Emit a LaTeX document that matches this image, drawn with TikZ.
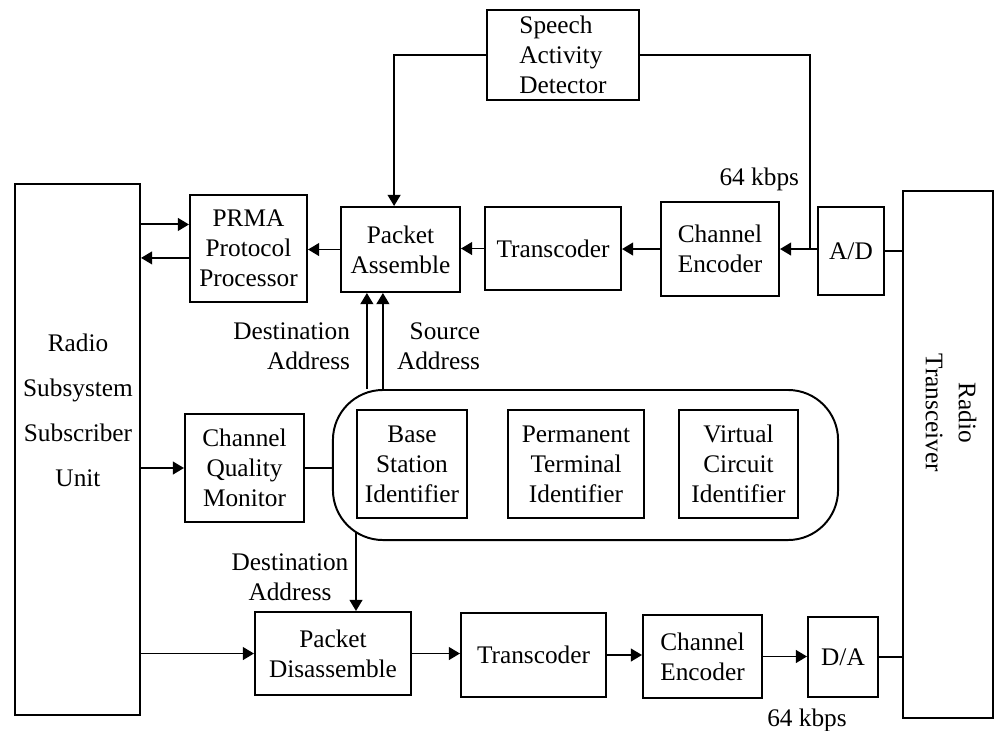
\documentclass[tikz,border=0pt]{standalone}
\usepackage{fontspec}
\setmainfont{Liberation Serif}
\usetikzlibrary{arrows.meta}
\usetikzlibrary{positioning}

\begin{document}
\begin{tikzpicture}[
    x=0.025cm, y=-0.025cm,
    line width=1.4pt,
    every node/.style={font=\fontsize{18}{21.3}\selectfont},
    block/.style={rectangle, draw, align=center, inner sep=1pt},
    edge label/.style={align=center, inner sep=0pt},
    arr/.style={-{Triangle[length=0.28cm, width=0.32cm]}},
  ]

  \useasboundingbox (0,0) rectangle (995,731);

  % side units
  \node[block, minimum width=3.125cm, minimum height=13.275cm] (rss) at (77.5, 449.5) {};
  \node[edge label, font=\fontsize{18}{32}\selectfont] (rsstxt) at (78, 410) {Radio\\Subsystem\\Subscriber\\Unit};
  \node[block, minimum width=2.25cm, minimum height=13.175cm] (rt) at (948, 454.5) {};
  \node[edge label, rotate=-90, font=\fontsize{18}{23.4}\selectfont] (rttxt) at (951, 413) {Radio\\Transceiver};

  % transmit path
  \node[block, minimum width=2.925cm, minimum height=2.675cm] (prma) at (248.5, 248.5) {PRMA\\Protocol\\Processor};
  \node[block, minimum width=2.975cm, minimum height=2.125cm] (pa) at (400.5, 249.5) {Packet\\Assemble};
  \node[block, align=left, minimum width=3.8cm, minimum height=2.25cm] (sad) at (563, 55) {Speech\\Activity\\Detector};
  \node[block, minimum width=3.4cm, minimum height=2.075cm] (tca) at (553, 248.5) {Transcoder};
  \node[block, minimum width=2.95cm, minimum height=2.35cm] (cea) at (720, 249) {Channel\\Encoder};
  \node[block, minimum width=1.65cm, minimum height=2.2cm] (ad) at (851, 251) {A/D};

  % identifiers
  \node[draw, rounded corners=1.25cm, minimum width=12.625cm, minimum height=3.75cm] (grp) at (585.5, 465) {};
  \node[block, minimum width=2.75cm, minimum height=2.7cm] (bsi) at (412, 464) {Base\\Station\\Identifier};
  \node[block, minimum width=3.4cm, minimum height=2.7cm] (pti) at (576, 464) {Permanent\\Terminal\\Identifier};
  \node[block, minimum width=2.975cm, minimum height=2.7cm] (vci) at (738.5, 464) {Virtual\\Circuit\\Identifier};
  \node[block, minimum width=2.975cm, minimum height=2.7cm] (cqm) at (244.5, 468) {Channel\\Quality\\Monitor};

  % receive path
  \node[block, minimum width=3.9cm, minimum height=2.075cm] (pd) at (333, 653.5) {Packet\\Disassemble};
  \node[block, minimum width=3.625cm, minimum height=2.1cm] (tcb) at (533.5, 655) {Transcoder};
  \node[block, minimum width=2.975cm, minimum height=2.075cm] (ceb) at (702.5, 656.5) {Channel\\Encoder};
  \node[block, minimum width=1.75cm, minimum height=2cm] (da) at (843, 657) {D/A};

  % labels
  \node[edge label, anchor=east] (kbpsa) at (800, 179) {64 kbps};
  \node[edge label, align=right, anchor=east] (dsta) at (351, 346) {Destination\\Address};
  \node[edge label, align=right, anchor=east] (srca) at (481, 346) {Source\\Address};
  \node[edge label] (dstb) at (290, 577) {Destination\\Address};
  \node[edge label] (kbpsb) at (807, 720) {64 kbps};

  \draw[arr] (rss.east |- prma.158) -- (prma.158);
  \draw[arr] (prma.189) -- (rss.east |- prma.189);
  \draw[arr] (pa.west) -- (prma.east |- pa.west);
  \draw[arr] (tca.west) -- (pa.east |- tca.west);
  \draw[arr] (cea.west) -- (tca.east |- cea.west);
  \draw[arr] (ad.west |- cea.east) -- (cea.east);
  \draw (rt.west |- ad.east) -- (ad.east);

  \coordinate (sadj) at ([xshift=-0.18cm]ad.west);
  \draw[arr] (sad.west) -| ([xshift=-0.16cm]pa.north);
  \draw (sad.east) -| (sadj |- cea.east);

  \coordinate (dsta0) at ([xshift=-0.84cm]pa.south);
  \coordinate (srca0) at ([xshift=-0.44cm]pa.south);
  \draw[arr] (dsta0 |- grp.north) -- (dsta0);
  \draw[arr] (srca0 |- grp.north) -- (srca0);

  \draw[arr] (rss.east |- cqm.west) -- (cqm.west);
  \draw (cqm.east) -- (grp.west |- cqm.east);

  \coordinate (dstb0) at ([xshift=0.575cm]pd.north);
  \coordinate (dstb1) at (dstb0 |- grp.south);
  \draw[arr] ([yshift=0.2cm]dstb1) -- (dstb0);

  \draw[arr] (rss.east |- pd.west) -- (pd.west);
  \draw[arr] (pd.east) -- (tcb.west |- pd.east);
  \draw[arr] (tcb.east) -- (ceb.west |- tcb.east);
  \draw[arr] (ceb.east) -- (da.west |- ceb.east);
  \draw (da.east) -- (rt.west |- da.east);

\end{tikzpicture}
\end{document}
